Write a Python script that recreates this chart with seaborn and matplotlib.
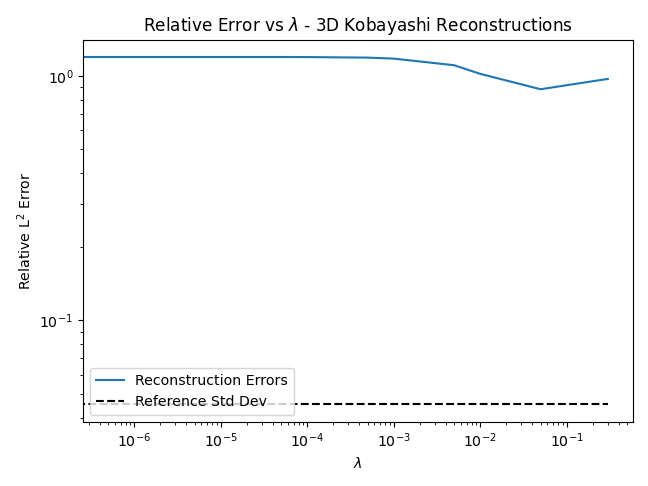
import matplotlib
matplotlib.use("Agg")
import matplotlib.pyplot as plt
import seaborn as sns

# Regularisation weights (first one is 0, i.e. no regularisation)
lambdas = [0, 5e-7, 1e-6, 5e-6, 1e-5, 5e-5, 1e-4, 5e-4, 1e-3, 5e-3, 1e-2, 5e-2, 3e-1]
# Relative L2 reconstruction errors
errors = [1.195, 1.195, 1.195, 1.195, 1.195, 1.195, 1.194, 1.188, 1.177, 1.106, 1.02, 0.882, 0.972]
# Reference standard deviation
ref_std = 0.0453

fig, ax = plt.subplots(figsize=(6.4, 4.8), dpi=101.25)

sns.lineplot(x=lambdas, y=errors, ax=ax, sort=False, estimator=None,
             color="#1f77b4", linewidth=1.5, label="Reconstruction Errors")
sns.lineplot(x=[lambdas[0], lambdas[-1]], y=[ref_std, ref_std], ax=ax,
             sort=False, estimator=None, color="black", linestyle="--",
             linewidth=1.5, label="Reference Std Dev")

ax.set_xscale("log")
ax.set_yscale("log")
ax.set_xlabel(r"$\lambda$")
ax.set_ylabel(r"Relative L$^2$ Error")
ax.set_title(r"Relative Error vs $\lambda$ - 3D Kobayashi Reconstructions")
ax.legend(loc="lower left")

fig.tight_layout()
fig.savefig("out.png")
